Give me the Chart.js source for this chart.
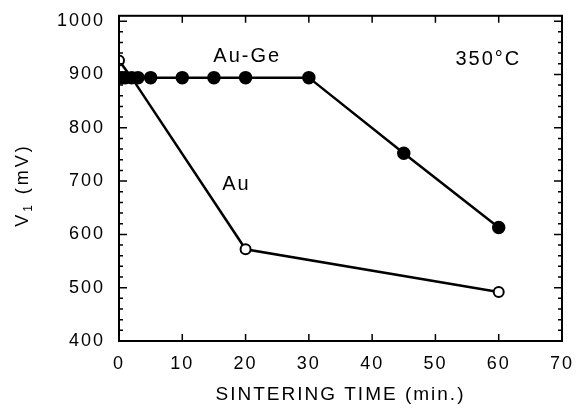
<!DOCTYPE html>
<html>
<head>
<meta charset="utf-8">
<script src="https://cdn.jsdelivr.net/npm/chart.js@4.4.0/dist/chart.umd.min.js"></script>
<style>
  html, body { margin: 0; padding: 0; background: #fff; }
  #wrap { width: 586px; height: 412px; }
</style>
</head>
<body>
<div id="wrap"><canvas id="chart" width="586" height="412"></canvas></div>
<script>
const auGeTime = [0, 0.5, 1, 2, 3, 5, 10, 15, 20, 30, 45, 60];
const auGeV = [894, 894, 894, 894, 894, 894, 894, 894, 894, 894, 752, 613];
const auTime = [0, 2, 20, 60];
const auV = [926, 894, 572, 492];
const xTicks = [0, 10, 20, 30, 40, 50, 60, 70];
const yTicks = [400, 500, 600, 700, 800, 900, 1000];
const notes = [
  { text: "Au-Ge", x: 20.1, y: 933 },
  { text: "350°C", x: 58.2, y: 928 },
  { text: "Au", x: 18.4, y: 694 },
];

const FONT = "Arial, 'Liberation Sans', sans-serif";
const ctx = document.getElementById("chart");

const toPts = (xs, ys) => xs.map((x, i) => ({ x: x, y: ys[i] }));

// wider spacing like the scanned figure
const spacingPlugin = {
  id: "spacing",
  beforeLayout(chart) { chart.ctx.letterSpacing = "2px"; },
  beforeDraw(chart) { chart.ctx.letterSpacing = "2px"; },
};

// frame, inward ticks, notes and the y title
const framePlugin = {
  id: "frame",
  afterDatasetsDraw(chart) {
    const c = chart.ctx;
    const a = chart.chartArea;
    const xs = chart.scales.x;
    const ys = chart.scales.y;
    c.save();
    c.strokeStyle = "#000";
    c.lineWidth = 2;
    c.strokeRect(a.left, a.top, a.right - a.left, a.bottom - a.top);
    c.lineWidth = 1.5;
    c.beginPath();
    xTicks.forEach((t) => {
      const px = xs.getPixelForValue(t);
      c.moveTo(px, a.bottom); c.lineTo(px, a.bottom - 7);
      c.moveTo(px, a.top); c.lineTo(px, a.top + 7);
    });
    for (let v = 400; v <= 1000; v += 20) {
      const py = ys.getPixelForValue(v);
      const len = v % 100 === 0 ? 8 : 4;
      c.moveTo(a.left, py); c.lineTo(a.left + len, py);
      c.moveTo(a.right, py); c.lineTo(a.right - len, py);
    }
    c.stroke();

    c.fillStyle = "#000";
    c.letterSpacing = "2px";
    c.font = "20px " + FONT;
    c.textAlign = "center";
    c.textBaseline = "middle";
    notes.forEach((n) => {
      c.fillText(n.text, xs.getPixelForValue(n.x) + 1, ys.getPixelForValue(n.y));
    });

    // y axis title with subscript
    c.translate(28, 185);
    c.rotate(-Math.PI / 2);
    c.textAlign = "left";
    c.textBaseline = "alphabetic";
    c.letterSpacing = "3px";
    c.font = "18px " + FONT;
    const w0 = c.measureText("V").width;
    const w2 = c.measureText(" (mV)").width;
    c.font = "12px " + FONT;
    const w1 = c.measureText("1").width;
    const x0 = -(w0 + w1 + w2) / 2;
    c.font = "18px " + FONT;
    c.fillText("V", x0, 0);
    c.font = "12px " + FONT;
    c.fillText("1", x0 + w0, 4);
    c.font = "18px " + FONT;
    c.fillText(" (mV)", x0 + w0 + w1, 0);
    c.restore();
  },
};

new Chart(ctx, {
  type: "line",
  plugins: [spacingPlugin, framePlugin],
  data: {
    datasets: [
      {
        label: "Au",
        data: toPts(auTime, auV),
        borderColor: "#000",
        borderWidth: 2.5,
        backgroundColor: "#fff",
        pointBackgroundColor: "#fff",
        pointBorderColor: "#000",
        pointBorderWidth: 2,
        pointRadius: (c) => (c.dataIndex === 1 ? 0 : 5),
        tension: 0,
      },
      {
        label: "Au-Ge",
        data: toPts(auGeTime, auGeV),
        borderColor: "#000",
        borderWidth: 2.5,
        backgroundColor: "#000",
        pointBackgroundColor: "#000",
        pointBorderColor: "#000",
        pointRadius: 5.5,
        tension: 0,
      },
    ],
  },
  options: {
    responsive: false,
    animation: false,
    layout: { autoPadding: false, padding: { top: 15, right: 18, left: 0, bottom: 0 } },
    plugins: { legend: { display: false }, tooltip: { enabled: false } },
    scales: {
      x: {
        type: "linear",
        min: 0,
        max: 70,
        afterFit: (s) => { s.height = 71; },
        afterBuildTicks: (s) => { s.ticks = xTicks.map((v) => ({ value: v })); },
        grid: { display: false, drawTicks: false },
        border: { display: false },
        ticks: {
          color: "#000",
          padding: 12,
          font: { size: 18, family: FONT },
          callback: (v) => String(v),
        },
        title: {
          display: true,
          text: "SINTERING TIME (min.)",
          color: "#000",
          font: { size: 19, family: FONT },
          padding: { top: 6, bottom: 6 },
        },
      },
      y: {
        type: "linear",
        min: 400,
        max: 1010,
        afterFit: (s) => { s.width = 119; },
        afterBuildTicks: (s) => { s.ticks = yTicks.map((v) => ({ value: v })); },
        grid: { display: false, drawTicks: false },
        border: { display: false },
        ticks: {
          color: "#000",
          padding: 14,
          font: { size: 18, family: FONT, lineHeight: 0.2 },
          callback: (v) => String(v),
        },
      },
    },
  },
});
</script>
</body>
</html>
